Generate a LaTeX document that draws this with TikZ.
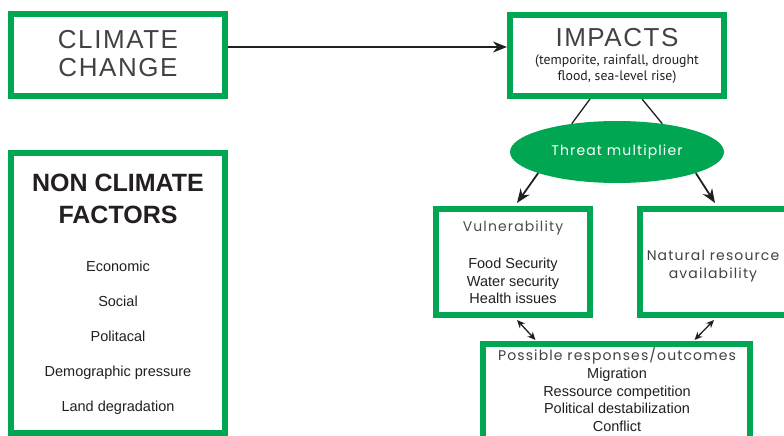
\documentclass[tikz,border=0pt]{standalone}
\usepackage{fontspec}
\setmainfont{Liberation Sans}
\newfontfamily\geo[LetterSpace=8]{Poppins}
\newfontfamily\wide[LetterSpace=6]{Liberation Sans}
\newfontfamily\myr{PT Sans}
\usetikzlibrary{arrows.meta,shapes.geometric}
\definecolor{gr}{HTML}{00A651}
\definecolor{ink}{HTML}{231F20}
\newcommand{\fs}[2]{\fontsize{#1}{#2}\selectfont}
\begin{document}
\begin{tikzpicture}[x=1pt,y=-1pt,
  box/.style={draw=gr, line width=6pt, fill=white, inner sep=0pt},
  txt/.style={text=ink, align=center, inner sep=0pt},
  conn/.style={-{Stealth[length=14pt,width=11pt]}, line width=1.8pt, draw=ink},
  twoway/.style={{Stealth[length=8pt,width=7pt]}-{Stealth[length=8pt,width=7pt]}, line width=1.3pt, draw=ink}]
\useasboundingbox (0,0) rectangle (784,436);
\clip (0,0) rectangle (784,436);
% boxes
\node[box, minimum width=214pt, minimum height=82pt] (climate) at (118,55) {};
\node[box, minimum width=214pt, minimum height=81pt] (impacts) at (617,55.5) {};
\node[box, minimum width=214pt, minimum height=280pt] (nonclim) at (118,293) {};
\node[box, minimum width=154pt, minimum height=106pt] (vuln) at (513,262) {};
\node[box, minimum width=150pt, minimum height=106pt] (natural) at (715,262) {};
\node[box, minimum width=267pt, minimum height=96pt] (poss) at (616.5,392) {};
\node[ellipse, fill=gr, minimum width=214pt, minimum height=62pt, inner sep=0pt] (threat) at (617,152) {};
% texts
\node[txt, text=ink!85, font=\wide\fs{26}{28}] (cctext) at (118,54) {CLIMATE\\CHANGE};
\node[txt, text=ink!85, font=\wide\fs{26}{28}] (imptitle) at (617,38) {IMPACTS};
\node[txt, font=\myr\fs{13.8}{16}] (impsub) at (617,69) {(temporite, rainfall, drought\\flood, sea-level rise)};
\node[txt, text=white, font=\geo\fs{14}{16}] (threattext) at (617,152) {Threat multiplier};
\node[txt, font=\bfseries\fs{25}{32}] (nctitle) at (118,199) {NON CLIMATE\\FACTORS};
\node[txt, font=\fs{14.5}{35}] (ncitems) at (118,338) {Economic\\Social\\Politacal\\Demographic pressure\\Land degradation};
\node[txt, text=ink!80, font=\geo\fs{14}{16}] (vulntitle) at (513,228) {Vulnerability};
\node[txt, font=\fs{14.5}{17.5}] (vulnitems) at (513,281) {Food Security\\Water security\\Health issues};
\node[txt, text=ink!85, font=\geo\fs{14}{18}] (nattext) at (713,266) {Natural resource\\availability};
\node[txt, text=ink!85, font=\geo\fs{14}{17}] (posstitle) at (617,356) {Possible responses/outcomes};
\node[txt, font=\fs{14.5}{17.5}] (possitems) at (617,400) {Migration\\Ressource competition\\Political destabilization\\Conflict};
% connectors
\coordinate (ay) at (0,47);
\draw[conn] (climate.east |- ay) -- (impacts.west |- ay);
\draw[line width=1.3pt, draw=ink] ([xshift=-27pt]impacts.south) -- (threat.148);
\draw[line width=1.3pt, draw=ink] ([xshift=25pt]impacts.south) -- (threat.32);
\draw[conn] (threat.195) -- ([xshift=4pt,yshift=3pt]vuln.north);
\draw[conn] (threat.345) -- ([yshift=3pt]natural.north);
\draw[twoway] ([xshift=4pt,yshift=-2pt]vuln.south) -- ([xshift=-81pt,yshift=1pt]poss.north);
\draw[twoway] ([xshift=-1pt,yshift=-2pt]natural.south) -- ([xshift=78pt,yshift=1pt]poss.north);
\end{tikzpicture}
\end{document}
